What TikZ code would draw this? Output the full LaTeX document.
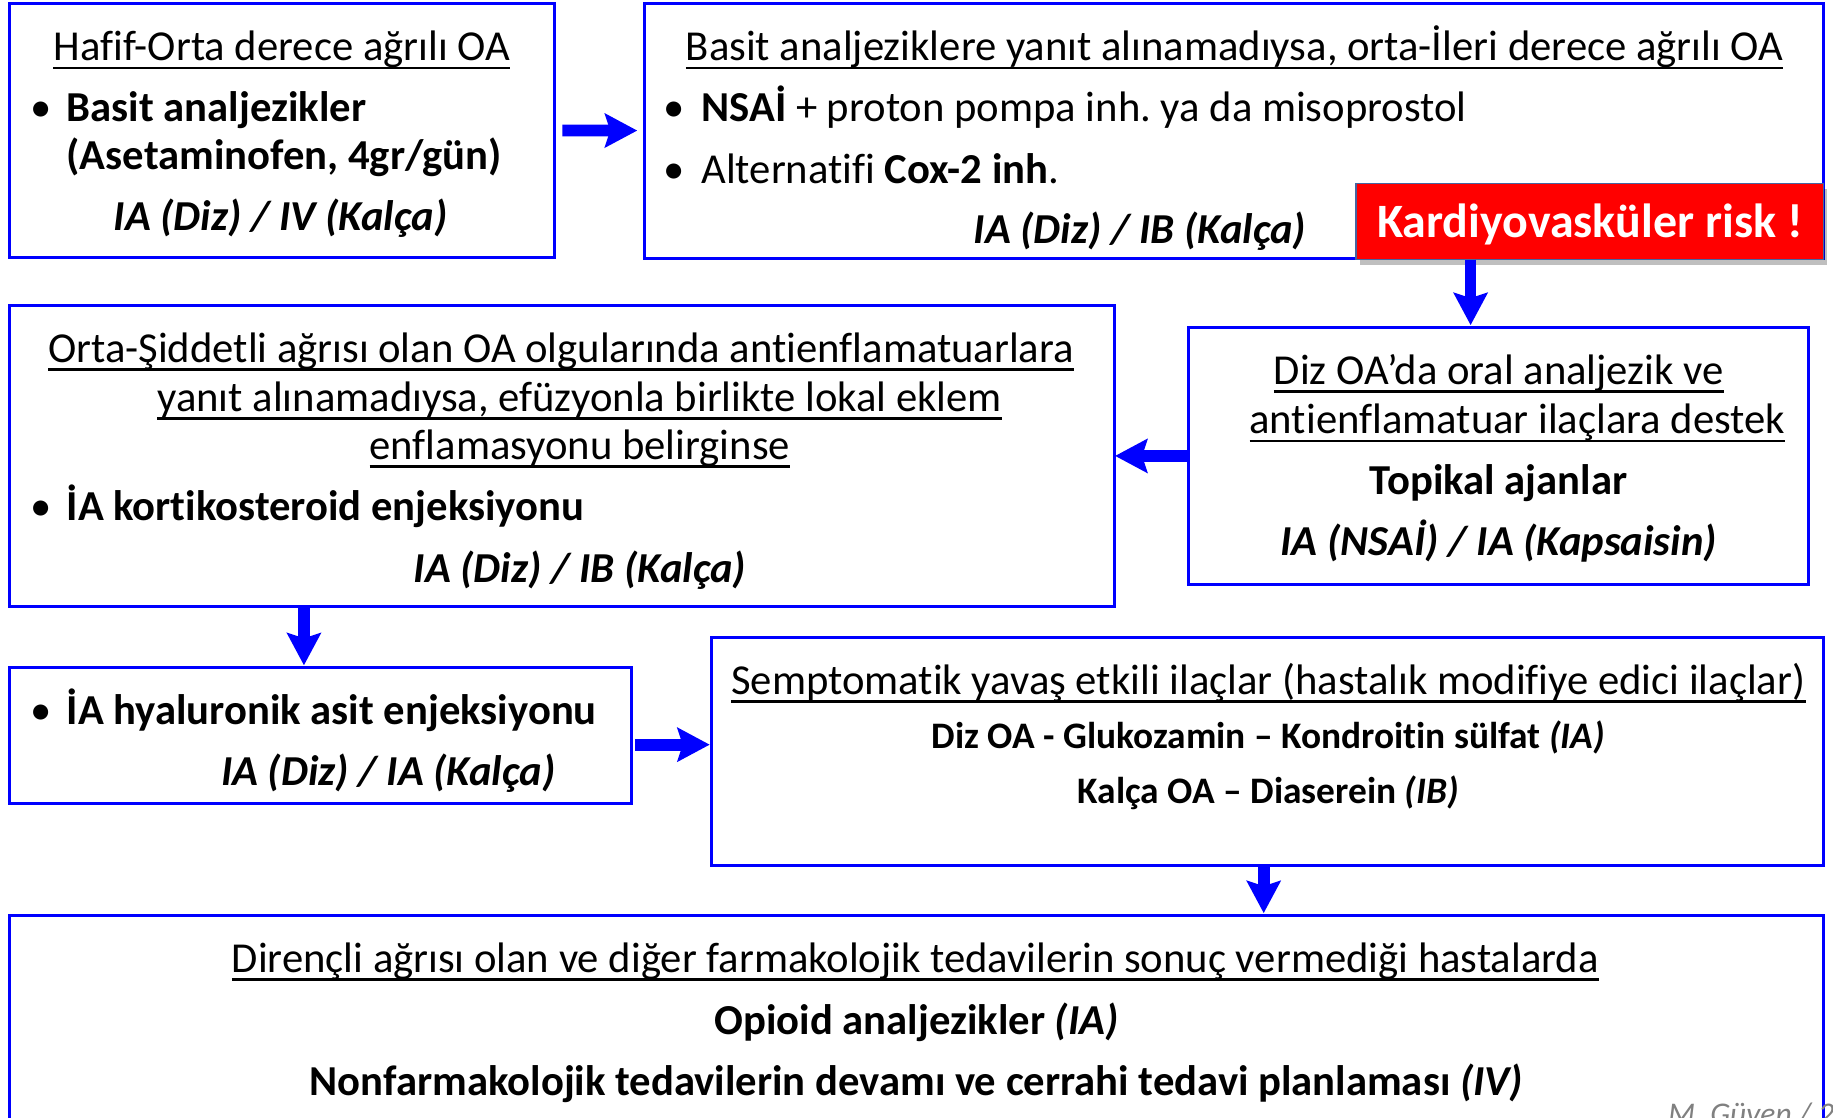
\documentclass[tikz,border=0pt]{standalone}
\usepackage{fontspec}
\setmainfont{Carlito}[Ligatures={TeX,NoCommon}]
\usetikzlibrary{arrows.meta,shadows}
\frenchspacing
\definecolor{boxblue}{RGB}{0,0,255}
\definecolor{riskred}{RGB}{255,0,0}
\definecolor{riskedge}{RGB}{70,100,160}
\definecolor{siggray}{RGB}{128,128,128}
\newsavebox\myulbox
\newcommand{\myul}[1]{\leavevmode\sbox\myulbox{#1}\rlap{\rule[-7pt]{\wd\myulbox}{2pt}}\usebox\myulbox}
\begin{document}
\begin{tikzpicture}[x=1pt,y=-1pt,
  box/.style={draw=boxblue, line width=2.5pt, inner sep=0pt, outer sep=0pt, rectangle},
  txt/.style={inner sep=0pt, outer sep=0pt, font=\fontsize{36.5}{44}\selectfont},
  smalltxt/.style={inner sep=0pt, outer sep=0pt, font=\fontsize{32}{38}\selectfont\bfseries},
  bigarrow/.style={draw=boxblue, line width=10pt, -{Stealth[length=28pt,width=30pt,inset=5pt,line width=0pt]}}
]
\useasboundingbox (0,0) rectangle (1568,956);
\clip (0,0) rectangle (1568,956);
\fill[white] (0,0) rectangle (1568,956);

% boxes
\node[box, minimum width=466, minimum height=217] (b1) at (241,111.5) {};
\node[box, minimum width=1009, minimum height=218] (b2) at (1055.5,112) {};
\node[draw=riskedge, line width=1pt, fill=riskred, minimum width=400, minimum height=65, inner sep=0pt, outer sep=0pt,
      drop shadow={shadow xshift=3pt, shadow yshift=-5pt, fill=black, opacity=0.25}] (red) at (1360,189.5) {};
\node[box, minimum width=945, minimum height=258] (b3) at (480.5,390) {};
\node[box, minimum width=530, minimum height=220] (b4) at (1282,390) {};
\node[box, minimum width=532, minimum height=116] (b5) at (274,629) {};
\node[box, minimum width=951, minimum height=195] (b6) at (1084.5,642.5) {};
\node[box, minimum width=1552, minimum height=217] (b7) at (784,891.5) {};

% box 1
\node[txt, anchor=base] (t11) at (241,52) {\myul{Hafif-Orta derece ağrılı OA}};
\node[txt, anchor=base] (t12b) at (35,104) {•};
\node[txt, anchor=base west] (t12) at (57,104) {\bfseries Basit analjezikler};
\node[txt, anchor=base west] (t13) at (57,145) {\bfseries (Asetaminofen, 4gr/gün)};
\node[txt, anchor=base] (t14) at (240,197) {\bfseries\itshape IA (Diz) / IV (Kalça)};

% box 2
\node[txt, anchor=base] (t21) at (1056,52) {\myul{Basit analjeziklere yanıt alınamadıysa, orta-İleri derece ağrılı OA}};
\node[txt, anchor=base] (t22b) at (577,104) {•};
\node[txt, anchor=base west] (t22) at (600,104) {\textbf{NSAİ} + proton pompa inh. ya da misoprostol};
\node[txt, anchor=base] (t23b) at (577,157) {•};
\node[txt, anchor=base west] (t23) at (600,157) {Alternatifi \textbf{Cox-2 inh}.};
\node[txt, anchor=base] (t24) at (975,208) {\bfseries\itshape IA (Diz) / IB (Kalça)};

% red box text
\node[inner sep=0pt, outer sep=0pt, anchor=base, text=white, font=\fontsize{41}{49}\selectfont\bfseries] (tred) at (1360,203) {Kardiyovasküler risk !};

% box 3
\node[txt, anchor=base] (t31) at (480,310) {\myul{Orta-Şiddetli ağrısı olan OA olgularında antienflamatuarlara}};
\node[txt, anchor=base] (t32) at (496,352) {\myul{yanıt alınamadıysa, efüzyonla birlikte lokal eklem}};
\node[txt, anchor=base] (t33) at (496,393) {\myul{enflamasyonu belirginse}};
\node[txt, anchor=base] (t34b) at (35,445) {•};
\node[txt, anchor=base west] (t34) at (57,445) {\bfseries İA kortikosteroid enjeksiyonu};
\node[txt, anchor=base] (t35) at (496,498) {\bfseries\itshape IA (Diz) / IB (Kalça)};

% box 4
\node[txt, anchor=base] (t41) at (1282,329) {\myul{Diz OA’da oral analjezik ve}};
\node[txt, anchor=base] (t42) at (1298,371) {\myul{antienflamatuar ilaçlara destek}};
\node[txt, anchor=base] (t43) at (1282,423) {\bfseries Topikal ajanlar};
\node[txt, anchor=base] (t44) at (1282,475) {\bfseries\itshape IA (NSAİ) / IA (Kapsaisin)};

% box 5
\node[txt, anchor=base] (t51b) at (35,620) {•};
\node[txt, anchor=base west] (t51) at (57,620) {\bfseries İA hyaluronik asit enjeksiyonu};
\node[txt, anchor=base] (t52) at (332,672) {\bfseries\itshape IA (Diz) / IA (Kalça)};

% box 6
\node[txt, anchor=base] (t61) at (1085,594) {\myul{Semptomatik yavaş etkili ilaçlar (hastalık modifiye edici ilaçlar)}};
\node[smalltxt, anchor=base] (t62) at (1085,640) {Diz OA - Glukozamin – Kondroitin sülfat \textit{(IA)}};
\node[smalltxt, anchor=base] (t63) at (1085,687) {Kalça OA – Diaserein \textit{(IB)}};

% box 7
\node[txt, anchor=base] (t71) at (783,832) {\myul{Dirençli ağrısı olan ve diğer farmakolojik tedavilerin sonuç vermediği hastalarda}};
\node[txt, anchor=base] (t72) at (784,885) {\bfseries Opioid analjezikler \textit{(IA)}};
\node[txt, anchor=base] (t73) at (784,937) {\bfseries Nonfarmakolojik tedavilerin devamı ve cerrahi tedavi planlaması \textit{(IV)}};

% signature
\node[inner sep=0pt, outer sep=0pt, anchor=base west, text=siggray, font=\fontsize{27}{32}\selectfont\itshape] (sig) at (1427,962) {M. Güven / 2};

% arrows
\coordinate (c2) at (1258,0);
\coordinate (c4) at (260,0);
\coordinate (c5) at (0,637);
\coordinate (c6) at (1081,0);
\draw[bigarrow, shorten <=7pt, shorten >=6pt] (b1) -- (b2);
\draw[bigarrow, shorten >=2pt] (red.south -| c2) -- (b4.north -| c2);
\draw[bigarrow, shorten >=1pt] (b4.west) -- (b3.east);
\draw[bigarrow, shorten >=2pt] (b3.south -| c4) -- (b5.north -| c4);
\draw[bigarrow, shorten <=3pt, shorten >=2pt] (b5.east |- c5) -- (b6.west |- c5);
\draw[bigarrow, shorten >=2pt] (b6.south -| c6) -- (b7.north -| c6);
\end{tikzpicture}
\end{document}
